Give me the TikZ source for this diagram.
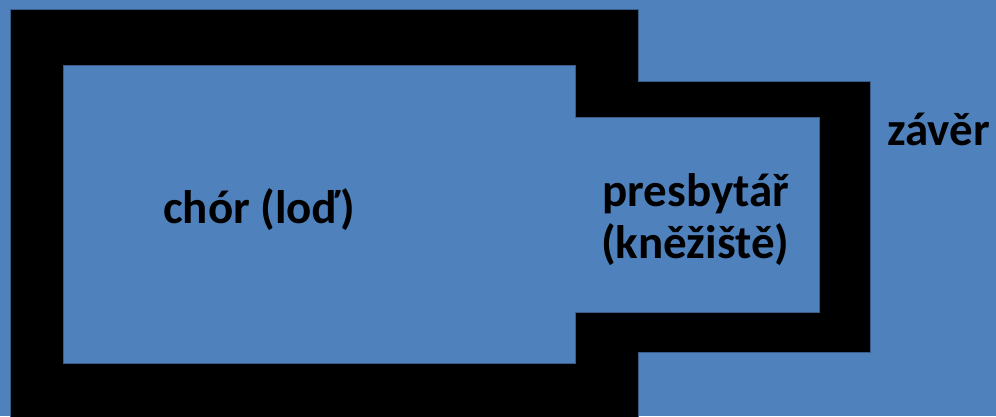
\documentclass[tikz,border=0pt]{standalone}
\usepackage{fontspec}
\setmainfont{Carlito}
\definecolor{bgblue}{HTML}{4F81BD}
\definecolor{edgeblue}{HTML}{385D8A}
\begin{document}
\begin{tikzpicture}[x=1pt,y=-1pt,
  lbl/.style={font=\fontsize{47}{52}\selectfont\bfseries, text=black, inner sep=0pt, anchor=base west},
  wall/.style={fill=black, draw=edgeblue, line width=0.8pt, even odd rule}]
\useasboundingbox (0,0) rectangle (996,416);
\clip (0,0) rectangle (996,416);
\fill[bgblue] (0,0) rectangle (996,416);
\path[wall]
  (10,9) -- (638,9) -- (638,81) -- (870,81) -- (870,352) -- (638,352) -- (638,430) -- (10,430) -- cycle
  (63,65) -- (575,65) -- (575,117) -- (819,117) -- (819,312) -- (575,312) -- (575,363) -- (63,363) -- cycle;
\node[lbl] (nave) at (163,223) {chór (loď)};
\node[lbl] (pres) at (602,206) {presbytář};
\node[lbl] (kn) at (601,258) {(kněžiště)};
\node[lbl] (zav) at (887,145) {závěr};
\end{tikzpicture}
\end{document}
